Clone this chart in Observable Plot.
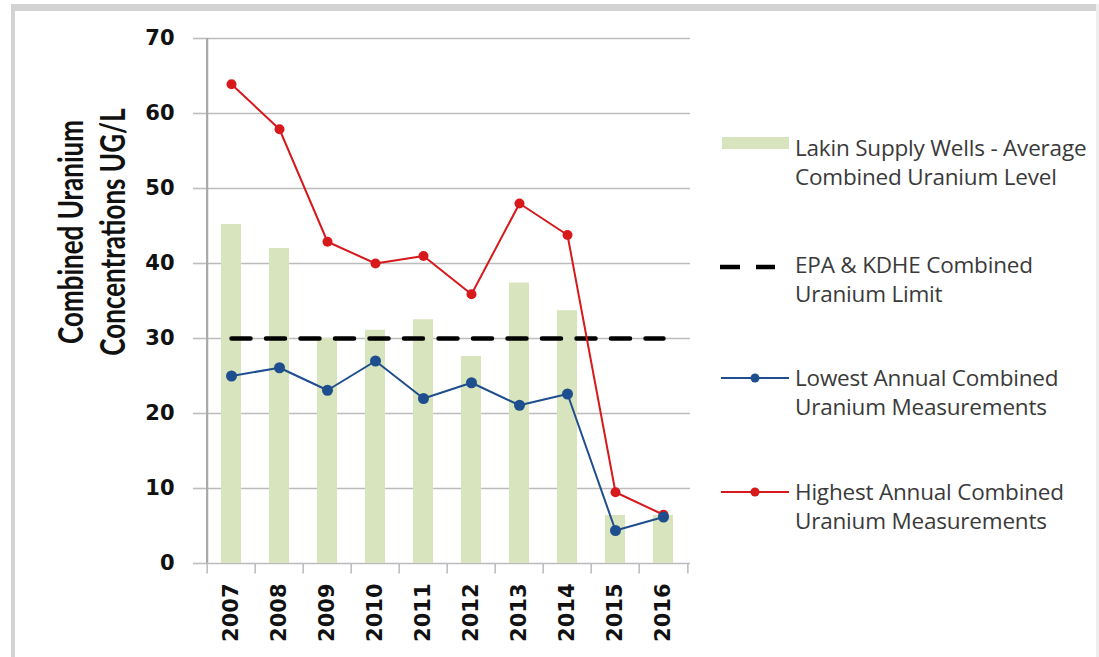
<!DOCTYPE html>
<html>
<head>
<meta charset="utf-8">
<script src="https://cdn.jsdelivr.net/npm/d3@7"></script>
<script src="https://cdn.jsdelivr.net/npm/@observablehq/plot@0.6"></script>
<style>
  body { margin: 0; background: #fff; }
  #wrap { position: relative; width: 1099px; height: 657px; overflow: hidden; font-family: Lato, "Open Sans", sans-serif; }
  #chart { position: absolute; left: 0; top: 0; }
  .frameTop { position: absolute; left: 11px; top: 4px; width: 1088px; height: 7px; background: #d3d3d3; }
  .frameLeft { position: absolute; left: 11px; top: 4px; width: 4px; height: 653px; background: #d3d3d3; }
  .frameRight { position: absolute; left: 1096px; top: 4px; width: 3px; height: 653px; background: #eeeeee; }
  .ytitle { position: absolute; left: 91px; top: 232px; transform: translate(-50%, -50%) rotate(-90deg) scaleY(1.3); white-space: nowrap; text-align: center; font-weight: 700; font-size: 26px; line-height: 32px; color: #111; font-family: Lato, sans-serif; }
  .leg { position: absolute; left: 720px; width: 380px; }
  .leg svg { position: absolute; left: 0; }
  .leg .txt { position: absolute; left: 75px; font-size: 22.5px; line-height: 29px; color: #3a3a3a; white-space: nowrap; font-family: "Open Sans", sans-serif; letter-spacing: -0.2px; }
  #chart svg g[aria-label="y-axis tick label"] text { font-size: 21px; }
</style>
</head>
<body>
<div id="wrap">
  <div class="frameTop"></div>
  <div class="frameLeft"></div>
  <div class="frameRight"></div>
  <div id="chart"></div>
  <div class="ytitle">Combined Uranium<br>Concentrations UG/L</div>
  <div id="legend"></div>
</div>
<script>
const years = ["2007","2008","2009","2010","2011","2012","2013","2014","2015","2016"];
const avgLevel = [45.2, 42.0, 30.0, 31.1, 32.5, 27.6, 37.4, 33.7, 6.4, 6.4];
const lowest  = [25.0, 26.1, 23.1, 27.0, 22.0, 24.1, 21.1, 22.6, 4.4, 6.2];
const highest = [63.9, 57.9, 42.9, 40.0, 41.0, 35.9, 48.0, 43.8, 9.5, 6.5];
const limitValue = 30;
const yTicks = [0, 10, 20, 30, 40, 50, 60, 70];

const legendItems = [
  {label: ["Lakin Supply Wells - Average", "Combined Uranium Level"], kind: "bar", color: "#d7e4bd"},
  {label: ["EPA & KDHE Combined", "Uranium Limit"], kind: "dash", color: "#000000"},
  {label: ["Lowest Annual Combined", "Uranium Measurements"], kind: "line", color: "#1f4e8e"},
  {label: ["Highest Annual Combined", "Uranium Measurements"], kind: "line", color: "#d7191c"}
];

const barColor = "#d7e4bd";
const lowColor = "#1f4e8e";
const highColor = "#d7191c";

const bars = years.map((y, i) => ({year: y, v: avgLevel[i]}));
const low = years.map((y, i) => ({year: y, v: lowest[i]}));
const high = years.map((y, i) => ({year: y, v: highest[i]}));
const limit = [{year: years[0], v: limitValue}, {year: years[years.length - 1], v: limitValue}];

const W = 1099, H = 657;
const mL = 203, mR = 409, mT = 38, mB = 94;
const bw = (W - mL - mR) / years.length;

const chart = Plot.plot({
  width: W, height: H,
  marginLeft: mL, marginRight: mR, marginTop: mT, marginBottom: mB,
  style: {background: "transparent"},
  x: {type: "band", domain: years, padding: 0, label: null},
  y: {domain: [0, 70], label: null},
  marks: [
    Plot.gridY(yTicks, {stroke: "#bcbcbc", strokeOpacity: 1, strokeWidth: 1.6}),
    Plot.barY(bars, {x: "year", y: "v", fill: barColor, insetLeft: 14, insetRight: 14}),
    Plot.line(limit, {x: "year", y: "v", stroke: "#000", strokeWidth: 4.5, strokeDasharray: "19,15.5"}),
    Plot.line(high, {x: "year", y: "v", stroke: highColor, strokeWidth: 2}),
    Plot.dot(high, {x: "year", y: "v", fill: highColor, r: 5}),
    Plot.line(low, {x: "year", y: "v", stroke: lowColor, strokeWidth: 2}),
    Plot.dot(low, {x: "year", y: "v", fill: lowColor, r: 5.5}),
    // y axis line
    Plot.ruleX([years[0]], {dx: -bw / 2, y1: 0, y2: 70, stroke: "#a8a8a8", strokeWidth: 2.2}),
    // x axis category boundary ticks
    Plot.ruleX(years, {x: d => d, dx: -bw / 2, y1: 0, y2: -1.4, stroke: "#bcbcbc", strokeWidth: 1.6}),
    Plot.ruleX([years[years.length - 1]], {dx: bw / 2, y1: 0, y2: -1.4, stroke: "#bcbcbc", strokeWidth: 1.6}),
    Plot.axisY(yTicks, {tickSize: 10, tickPadding: 19, stroke: "#bcbcbc", strokeWidth: 1.6, fontSize: 21, fontWeight: 700, fontFamily: "DejaVu Sans", fill: "#111", label: null}),
    Plot.axisX({tickSize: 0, tickPadding: 20, tickRotate: -90, fontSize: 21, fontWeight: 700, fontFamily: "DejaVu Sans", fill: "#111", label: null})
  ]
});
document.getElementById("chart").appendChild(chart);

// legend
const leg = document.getElementById("legend");
const rowTops = [133, 250, 363, 477];
legendItems.forEach((it, i) => {
  const d = document.createElement("div");
  d.className = "leg";
  d.style.top = rowTops[i] + "px";
  let sw = "";
  if (it.kind === "bar") sw = `<rect x="2" y="4" width="67" height="12" fill="${it.color}"/>`;
  if (it.kind === "dash") sw = `<line x1="0" y1="17" x2="55" y2="17" stroke="${it.color}" stroke-width="4.5" stroke-dasharray="20,16"/>`;
  if (it.kind === "line") sw = `<line x1="1" y1="15" x2="69" y2="15" stroke="${it.color}" stroke-width="2"/><circle cx="35" cy="15" r="4.5" fill="${it.color}"/>`;
  d.innerHTML = `<svg width="72" height="30" style="top:0">${sw}</svg><div class="txt" style="top:0">${it.label[0]}<br>${it.label[1]}</div>`;
  leg.appendChild(d);
});
</script>
</body>
</html>
